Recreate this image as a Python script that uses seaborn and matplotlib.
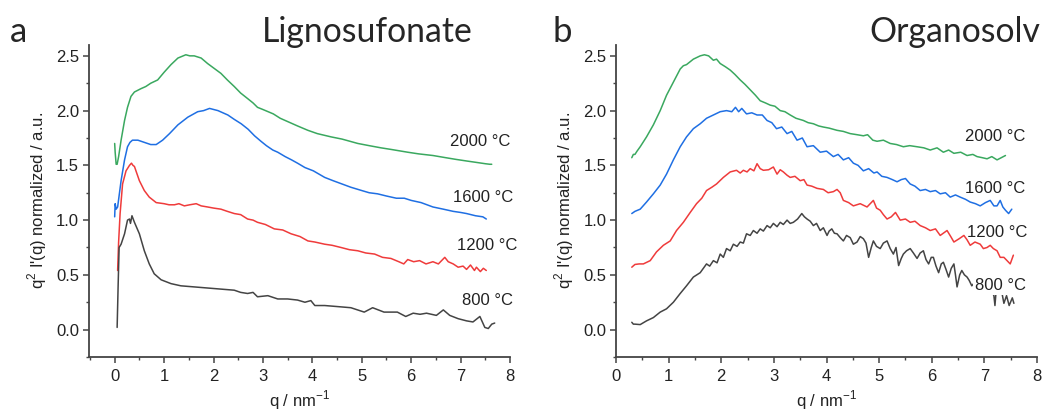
import numpy as np
import pandas as pd
import seaborn as sns
import matplotlib.pyplot as plt
from matplotlib.ticker import MultipleLocator

# ---- data (q in nm^-1, q^2 I'(q) normalized, offset per curve)
temps = ['2000 °C', '1600 °C', '1200 °C', '800 °C']
colors = ['#3aa85f', '#1f6fe3', '#ef3b3b', '#444444']

# Lignosulfonate
q_ls_2000 = [0.00, 0.01, 0.03, 0.05, 0.08, 0.13, 0.20, 0.26, 0.33, 0.40, 0.53, 0.63, 0.73, 0.87, 1.00, 1.14, 1.28, 1.44, 1.52, 1.61,
             1.75, 1.88, 2.00, 2.15, 2.28, 2.42, 2.55, 2.69, 2.80, 2.89, 3.00, 3.21, 3.35, 3.50, 3.70, 3.91, 4.10, 4.38, 4.60, 4.92,
             5.15, 5.39, 5.60, 5.93, 6.15, 6.44, 6.70, 6.90, 7.12, 7.35, 7.50, 7.59, 7.63]
i_ls_2000 = [1.70, 1.62, 1.51, 1.51, 1.58, 1.73, 1.91, 2.03, 2.13, 2.17, 2.20, 2.22, 2.25, 2.28, 2.35, 2.42, 2.48, 2.51, 2.50, 2.50,
             2.48, 2.43, 2.39, 2.34, 2.28, 2.22, 2.16, 2.11, 2.07, 2.03, 2.01, 1.97, 1.93, 1.90, 1.86, 1.82, 1.79, 1.76, 1.74, 1.70,
             1.68, 1.66, 1.645, 1.62, 1.605, 1.59, 1.57, 1.555, 1.54, 1.525, 1.515, 1.51, 1.51]

q_ls_1600 = [0.00, 0.01, 0.03, 0.06, 0.13, 0.20, 0.26, 0.31, 0.36, 0.47, 0.60, 0.73, 0.84, 0.97, 1.11, 1.28, 1.48, 1.68, 1.80, 1.92,
             2.09, 2.29, 2.42, 2.56, 2.70, 2.83, 2.96, 3.07, 3.20, 3.30, 3.45, 3.58, 3.70, 3.85, 4.02, 4.25, 4.42, 4.60, 4.78, 5.00,
             5.15, 5.32, 5.50, 5.70, 5.86, 6.00, 6.20, 6.44, 6.65, 6.85, 7.00, 7.12, 7.30, 7.45, 7.52]
i_ls_1600 = [1.03, 1.15, 1.10, 1.12, 1.36, 1.55, 1.67, 1.71, 1.73, 1.73, 1.71, 1.69, 1.69, 1.73, 1.79, 1.87, 1.94, 1.99, 2.00, 2.02,
             2.00, 1.96, 1.92, 1.88, 1.83, 1.77, 1.72, 1.68, 1.64, 1.62, 1.58, 1.55, 1.52, 1.48, 1.45, 1.39, 1.36, 1.33, 1.30, 1.27,
             1.25, 1.24, 1.22, 1.20, 1.20, 1.18, 1.16, 1.12, 1.10, 1.08, 1.07, 1.06, 1.04, 1.03, 1.01]

q_ls_1200 = [0.06, 0.08, 0.11, 0.16, 0.23, 0.30, 0.34, 0.37, 0.40, 0.50, 0.60, 0.70, 0.84, 1.00, 1.10, 1.21, 1.30, 1.41, 1.52, 1.65,
             1.75, 1.88, 2.00, 2.15, 2.28, 2.42, 2.55, 2.69, 2.80, 2.89, 3.05, 3.23, 3.40, 3.57, 3.75, 3.91, 4.05, 4.25, 4.40, 4.58,
             4.75, 4.92, 5.08, 5.26, 5.42, 5.59, 5.75, 5.85, 5.93, 6.05, 6.17, 6.30, 6.44, 6.55, 6.68, 6.75, 6.85, 6.95, 7.05, 7.12,
             7.20, 7.28, 7.32, 7.40, 7.46, 7.52]
i_ls_1200 = [0.54, 0.80, 1.06, 1.33, 1.45, 1.50, 1.52, 1.50, 1.49, 1.36, 1.27, 1.21, 1.16, 1.15, 1.14, 1.14, 1.15, 1.13, 1.14, 1.15,
             1.13, 1.12, 1.11, 1.10, 1.08, 1.06, 1.05, 1.01, 1.00, 0.98, 0.96, 0.92, 0.91, 0.875, 0.85, 0.81, 0.80, 0.78, 0.77, 0.75,
             0.73, 0.72, 0.70, 0.69, 0.66, 0.65, 0.62, 0.60, 0.64, 0.62, 0.63, 0.60, 0.62, 0.60, 0.66, 0.62, 0.60, 0.57, 0.58, 0.55,
             0.59, 0.54, 0.57, 0.53, 0.56, 0.54]

q_ls_800 = [0.05, 0.07, 0.09, 0.13, 0.20, 0.26, 0.30, 0.32, 0.35, 0.40, 0.50, 0.60, 0.70, 0.80, 0.94, 1.14, 1.34, 1.61, 1.88, 2.15,
            2.42, 2.55, 2.69, 2.80, 2.89, 3.10, 3.30, 3.50, 3.70, 3.85, 3.97, 4.05, 4.25, 4.52, 4.78, 5.05, 5.22, 5.45, 5.72, 5.89,
            6.04, 6.18, 6.31, 6.51, 6.65, 6.78, 6.95, 7.12, 7.25, 7.39, 7.49, 7.56, 7.63, 7.69]
i_ls_800 = [0.02, 0.40, 0.75, 0.78, 0.875, 1.00, 1.01, 0.97, 1.04, 0.98, 0.875, 0.72, 0.60, 0.51, 0.455, 0.42, 0.40, 0.39, 0.38, 0.37,
            0.36, 0.34, 0.33, 0.34, 0.30, 0.31, 0.28, 0.28, 0.27, 0.25, 0.265, 0.22, 0.22, 0.21, 0.20, 0.16, 0.20, 0.16, 0.16, 0.12,
            0.15, 0.14, 0.15, 0.13, 0.18, 0.13, 0.10, 0.08, 0.07, 0.12, 0.02, 0.01, 0.05, 0.06]

# Organosolv
q_os_2000 = [0.30, 0.33, 0.36, 0.40, 0.46, 0.58, 0.71, 0.84, 0.96, 1.09, 1.22, 1.28, 1.34, 1.47, 1.60, 1.68, 1.76, 1.85, 1.91, 1.98,
             2.08, 2.17, 2.26, 2.36, 2.45, 2.55, 2.65, 2.74, 2.84, 2.93, 3.02, 3.12, 3.21, 3.31, 3.42, 3.56, 3.65, 3.75, 3.85, 3.94,
             4.05, 4.20, 4.32, 4.45, 4.58, 4.70, 4.78, 4.88, 4.96, 5.08, 5.21, 5.33, 5.46, 5.58, 5.72, 5.85, 5.97, 6.10, 6.22, 6.32,
             6.42, 6.55, 6.67, 6.78, 6.86, 6.96, 7.05, 7.14, 7.24, 7.32, 7.40]
i_os_2000 = [1.57, 1.60, 1.60, 1.63, 1.67, 1.76, 1.87, 2.00, 2.14, 2.26, 2.38, 2.41, 2.42, 2.47, 2.50, 2.51, 2.50, 2.46, 2.47, 2.43,
             2.40, 2.37, 2.33, 2.28, 2.24, 2.19, 2.14, 2.09, 2.07, 2.05, 2.04, 2.00, 1.99, 1.96, 1.93, 1.91, 1.89, 1.88, 1.86, 1.85,
             1.84, 1.82, 1.81, 1.79, 1.78, 1.77, 1.78, 1.73, 1.72, 1.73, 1.70, 1.69, 1.67, 1.68, 1.67, 1.66, 1.64, 1.66, 1.62, 1.64,
             1.61, 1.62, 1.59, 1.60, 1.58, 1.57, 1.56, 1.58, 1.55, 1.57, 1.59]

q_os_1600 = [0.30, 0.36, 0.46, 0.58, 0.71, 0.84, 0.96, 1.09, 1.22, 1.34, 1.47, 1.60, 1.72, 1.85, 1.98, 2.10, 2.20, 2.27, 2.33, 2.39,
             2.48, 2.58, 2.68, 2.78, 2.87, 2.96, 3.05, 3.15, 3.25, 3.34, 3.44, 3.54, 3.63, 3.75, 3.88, 4.00, 4.13, 4.22, 4.32, 4.42,
             4.51, 4.60, 4.70, 4.80, 4.90, 4.96, 5.05, 5.15, 5.25, 5.34, 5.42, 5.50, 5.59, 5.68, 5.78, 5.88, 5.97, 6.07, 6.16, 6.26,
             6.35, 6.45, 6.54, 6.64, 6.73, 6.83, 6.92, 7.02, 7.11, 7.18, 7.24, 7.30, 7.35, 7.40, 7.46, 7.52]
i_os_1600 = [1.06, 1.08, 1.10, 1.165, 1.24, 1.32, 1.42, 1.55, 1.67, 1.76, 1.835, 1.88, 1.93, 1.96, 1.99, 2.00, 1.99, 2.03, 1.99, 2.02,
             1.97, 1.98, 1.96, 1.96, 1.91, 1.89, 1.835, 1.85, 1.79, 1.81, 1.73, 1.75, 1.67, 1.68, 1.62, 1.63, 1.58, 1.60, 1.55, 1.57,
             1.52, 1.50, 1.45, 1.47, 1.43, 1.44, 1.40, 1.39, 1.37, 1.35, 1.37, 1.38, 1.33, 1.31, 1.27, 1.28, 1.26, 1.27, 1.24, 1.25,
             1.21, 1.23, 1.21, 1.19, 1.165, 1.15, 1.13, 1.16, 1.18, 1.13, 1.13, 1.18, 1.12, 1.09, 1.06, 1.10]

q_os_1200 = [0.30, 0.36, 0.44, 0.52, 0.65, 0.77, 0.90, 1.03, 1.15, 1.28, 1.41, 1.53, 1.63, 1.72, 1.82, 1.91, 2.04, 2.17, 2.29, 2.36,
             2.42, 2.49, 2.55, 2.62, 2.68, 2.74, 2.80, 2.90, 2.99, 3.06, 3.12, 3.18, 3.25, 3.31, 3.40, 3.50, 3.57, 3.63, 3.72, 3.82,
             3.94, 4.03, 4.13, 4.20, 4.26, 4.32, 4.42, 4.51, 4.64, 4.77, 4.89, 4.95, 5.02, 5.08, 5.15, 5.23, 5.31, 5.40, 5.50, 5.59,
             5.68, 5.78, 5.88, 5.97, 6.07, 6.16, 6.29, 6.36, 6.42, 6.52, 6.61, 6.67, 6.73, 6.82, 6.92, 6.98, 7.05, 7.11, 7.17, 7.24,
             7.30, 7.37, 7.43, 7.49, 7.55]
i_os_1200 = [0.57, 0.595, 0.60, 0.60, 0.63, 0.71, 0.77, 0.81, 0.905, 0.98, 1.07, 1.15, 1.20, 1.27, 1.30, 1.33, 1.39, 1.44, 1.455, 1.43,
             1.455, 1.44, 1.47, 1.45, 1.515, 1.47, 1.455, 1.46, 1.485, 1.42, 1.46, 1.44, 1.41, 1.39, 1.40, 1.36, 1.37, 1.32, 1.31, 1.29,
             1.28, 1.25, 1.26, 1.28, 1.25, 1.18, 1.16, 1.13, 1.15, 1.12, 1.18, 1.11, 1.09, 1.05, 1.01, 1.03, 1.07, 1.00, 1.01, 0.98,
             0.99, 0.95, 0.93, 0.905, 0.92, 0.86, 0.905, 0.85, 0.80, 0.83, 0.86, 0.82, 0.77, 0.80, 0.78, 0.74, 0.75, 0.77, 0.74, 0.72,
             0.66, 0.66, 0.63, 0.60, 0.68]

q_os_800 = [0.30, 0.33, 0.36, 0.46, 0.58, 0.71, 0.84, 0.96, 1.09, 1.22, 1.34, 1.47, 1.60, 1.72, 1.78, 1.85, 1.92, 1.98, 2.04, 2.10,
            2.17, 2.23, 2.30, 2.36, 2.42, 2.48, 2.55, 2.61, 2.68, 2.74, 2.80, 2.87, 2.93, 2.99, 3.06, 3.12, 3.18, 3.25, 3.31, 3.37,
            3.45, 3.53, 3.58, 3.63, 3.69, 3.75, 3.81, 3.88, 3.94, 4.01, 4.05, 4.10, 4.15, 4.20, 4.26, 4.32, 4.38, 4.45, 4.51, 4.58,
            4.64, 4.70, 4.75, 4.80, 4.85, 4.89, 4.95, 5.02, 5.08, 5.15, 5.21, 5.27, 5.32, 5.37, 5.42, 5.46, 5.52, 5.59, 5.65, 5.72,
            5.78, 5.84, 5.89, 5.94, 5.99, 6.03, 6.08, 6.13, 6.18, 6.22, 6.27, 6.32, 6.37, 6.42, 6.45, 6.48, 6.53, 6.57, 6.62, 6.67,
            6.71, 6.76, 6.85, 6.95, 7.05, 7.13, 7.18, 7.20, 7.23, 7.30, 7.37, 7.42, 7.47, 7.53, 7.56]
i_os_800 = [0.067, 0.05, 0.05, 0.046, 0.08, 0.11, 0.16, 0.19, 0.25, 0.33, 0.40, 0.48, 0.52, 0.60, 0.58, 0.63, 0.61, 0.69, 0.66, 0.74,
            0.72, 0.78, 0.76, 0.80, 0.79, 0.875, 0.86, 0.905, 0.88, 0.92, 0.90, 0.95, 0.93, 0.97, 0.94, 0.98, 0.96, 1.00, 0.97, 0.98,
            1.01, 1.06, 1.03, 1.01, 0.99, 0.95, 0.97, 0.905, 0.93, 0.86, 0.90, 0.92, 0.88, 0.875, 0.84, 0.81, 0.86, 0.84, 0.78, 0.80,
            0.85, 0.83, 0.79, 0.66, 0.75, 0.81, 0.76, 0.74, 0.79, 0.81, 0.74, 0.69, 0.75, 0.585, 0.65, 0.69, 0.72, 0.74, 0.70, 0.65,
            0.70, 0.72, 0.64, 0.60, 0.66, 0.66, 0.58, 0.52, 0.60, 0.615, 0.55, 0.48, 0.56, 0.60, 0.50, 0.39, 0.50, 0.54, 0.50, 0.48,
            0.45, 0.40, 0.45, 0.38, 0.44, 0.36, 0.31, 0.22, 0.40, 0.42, 0.24, 0.31, 0.22, 0.29, 0.24]

# label anchors (q, value) per panel, same order as temps
lab_q_ls = [6.78, 6.85, 6.92, 7.02]
lab_i_ls = [1.72, 1.21, 0.77, 0.265]
lab_q_os = [6.63, 6.63, 6.67, 6.83]
lab_i_os = [1.76, 1.29, 0.89, 0.40]

panels = [
    ('a', 'Lignosufonate', [(q_ls_2000, i_ls_2000), (q_ls_1600, i_ls_1600), (q_ls_1200, i_ls_1200), (q_ls_800, i_ls_800)],
     lab_q_ls, lab_i_ls, (-0.52, 8)),
    ('b', 'Organosolv', [(q_os_2000, i_os_2000), (q_os_1600, i_os_1600), (q_os_1200, i_os_1200), (q_os_800, i_os_800)],
     lab_q_os, lab_i_os, (0, 8)),
]

sns.set_style('ticks')
plt.rcParams['font.family'] = ['Liberation Sans', 'DejaVu Sans']
plt.rcParams['mathtext.fontset'] = 'custom'
plt.rcParams['mathtext.rm'] = 'Liberation Sans'

fig = plt.figure(figsize=(10.43, 4.12), dpi=100)
axes_pos = [[0.0853, 0.1335, 0.4037, 0.7575], [0.5906, 0.1335, 0.4037, 0.7575]]
letter_x = [0.0096, 0.530]
title_x = [0.251, 0.834]

for k, (letter, title, curves, lq, li, xlim) in enumerate(panels):
    ax = fig.add_axes(axes_pos[k])
    for (q, v), c in zip(curves, colors):
        df = pd.DataFrame({'q': q, 'I': v})
        sns.lineplot(data=df, x='q', y='I', ax=ax, color=c, lw=1.1, sort=False, estimator=None)
    for t, x, y in zip(temps, lq, li):
        kw = {}
        if k == 1 and t == '800 °C':
            kw['bbox'] = dict(facecolor='white', edgecolor='none', pad=1.5)
        ax.text(x, y, t, fontsize=12, color='#222222', va='center', ha='left', zorder=5, **kw)
    ax.set_xlim(*xlim)
    ax.set_ylim(-0.25, 2.6)
    ax.xaxis.set_major_locator(MultipleLocator(1))
    ax.xaxis.set_minor_locator(MultipleLocator(0.5))
    ax.yaxis.set_minor_locator(MultipleLocator(0.25))
    ax.set_yticks([0, 0.5, 1.0, 1.5, 2.0, 2.5])
    ax.tick_params(which='major', direction='out', length=4, width=1.1, colors='#444444',
                   labelsize=12, labelcolor='#222222')
    ax.tick_params(axis='x', which='major', pad=5)
    ax.tick_params(axis='y', which='major', pad=3)
    ax.tick_params(which='minor', direction='out', length=2.5, width=1.0, colors='#444444')
    sns.despine(ax=ax)
    for s in ['left', 'bottom']:
        ax.spines[s].set_linewidth(1.3)
        ax.spines[s].set_color('#444444')
    ax.set_xlabel('q / nm$^{\\mathregular{\u22121}}$', fontsize=12, color='#222222', labelpad=3)
    ax.set_ylabel("q$^{\\mathregular{2}}$ I'(q) normalized / a.u.", fontsize=12, color='#222222', labelpad=5)
    fig.text(letter_x[k], 0.898, letter, fontsize=25, family='Lato', va='baseline', ha='left')
    fig.text(title_x[k], 0.898, title, fontsize=24.3, family='Lato', va='baseline', ha='left')

fig.savefig('out.png', dpi=100, facecolor='white')
